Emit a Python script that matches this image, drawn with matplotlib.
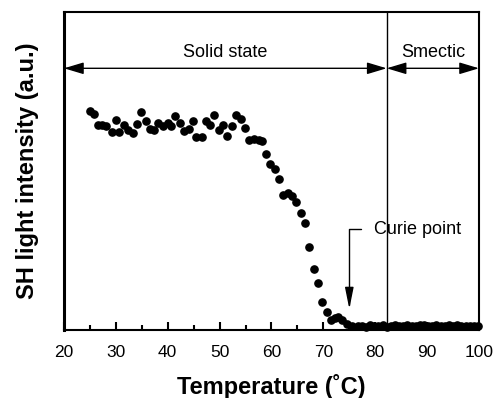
import numpy as np
import matplotlib
matplotlib.use('Agg')
import matplotlib.pyplot as plt

plt.rcParams['font.family'] = ['Liberation Sans', 'DejaVu Sans']

# Datos: temperatura (C) e intensidad SH (u.a.)
temp = [25.0, 25.8, 26.6, 27.3, 28.1, 29.2, 30.0, 30.7, 31.5, 32.4,
        33.3, 34.0, 34.9, 35.8, 36.6, 37.4, 38.2, 39.1, 40.0, 40.7,
        41.4, 42.3, 43.2, 44.1, 44.9, 45.5, 46.6, 47.4, 48.2, 49.0,
        49.9, 50.7, 51.5, 52.3, 53.2, 54.1, 54.8, 55.6, 56.6, 57.5,
        58.2, 59.0, 59.7, 60.6, 61.5, 62.3, 63.1, 64.0, 64.8, 65.6,
        66.4, 67.3, 68.2, 68.9, 69.7, 70.7, 71.5, 72.2, 72.8, 73.6,
        74.6, 75.6, 76.6, 77.4, 78.2, 79.0, 79.8, 80.6, 81.4, 82.2,
        83.0, 83.8, 84.6, 85.4, 86.2, 87.0, 87.8, 88.6, 89.4, 90.2,
        91.0, 91.8, 92.6, 93.4, 94.2, 95.0, 95.8, 96.6, 97.4, 98.2,
        99.0, 99.8]
intens = [0.690, 0.680, 0.646, 0.645, 0.642, 0.623, 0.661, 0.623, 0.645, 0.629,
          0.619, 0.648, 0.686, 0.656, 0.632, 0.629, 0.651, 0.642, 0.651, 0.642,
          0.673, 0.651, 0.626, 0.632, 0.656, 0.606, 0.606, 0.656, 0.644, 0.676,
          0.629, 0.644, 0.611, 0.640, 0.676, 0.664, 0.635, 0.598, 0.602, 0.596,
          0.593, 0.552, 0.521, 0.507, 0.476, 0.426, 0.431, 0.420, 0.402, 0.368,
          0.337, 0.261, 0.193, 0.147, 0.089, 0.056, 0.031, 0.037, 0.042, 0.031,
          0.019, 0.012, 0.012, 0.014, 0.010, 0.015, 0.011, 0.013, 0.016, 0.010,
          0.012, 0.015, 0.013, 0.011, 0.016, 0.013, 0.012, 0.015, 0.017, 0.013,
          0.012, 0.016, 0.014, 0.011, 0.015, 0.013, 0.016, 0.012, 0.014, 0.011,
          0.013, 0.012]

x_ticks = [20, 30, 40, 50, 60, 70, 80, 90, 100]
t_trans = 82.2   # solido -> esmectico
t_curie = 75.0

fig = plt.figure(figsize=(4.93, 3.98), dpi=100)
ax = fig.add_axes([0.1298, 0.1709, 0.8418, 0.7989])

ax.plot(temp, intens, 'o', color='black', markersize=5.2, clip_on=False)

ax.set_xlim(20, 100)
ax.set_ylim(0, 1)
ax.set_xticks(x_ticks)
ax.set_xticks(np.arange(25, 100, 10), minor=True)
ax.set_yticks([])
ax.tick_params(axis='x', which='major', direction='in', length=6, width=1.5,
               labelsize=12.5, pad=11)
ax.tick_params(axis='x', which='minor', direction='in', length=3.5, width=1.5)
for s in ax.spines.values():
    s.set_linewidth(1.5)
ax.spines['left'].set_linewidth(2.2)

ax.set_xlabel('Temperature (˚C)', fontsize=17, fontweight='bold', labelpad=10)
ax.set_ylabel('SH light intensity (a.u.)', fontsize=17, fontweight='bold', labelpad=18)

# linea de transicion
ax.axvline(t_trans, color='black', linewidth=1)

# flechas de fases
arr = dict(arrowstyle='<|-|>,head_length=0.6,head_width=0.18', color='black',
           linewidth=1, mutation_scale=20, shrinkA=0, shrinkB=0)
ax.annotate('', xy=(20, 0.823), xytext=(t_trans, 0.823), arrowprops=arr)
ax.annotate('', xy=(t_trans, 0.823), xytext=(100, 0.823), arrowprops=arr)
ax.text((20 + t_trans) / 2, 0.874, 'Solid state', ha='center', va='center', fontsize=13)
ax.text((t_trans + 100) / 2, 0.874, 'Smectic', ha='center', va='center', fontsize=13)

# punto de Curie
ax.annotate('Curie point', xy=(t_curie, 0.066), xytext=(79.7, 0.317),
            ha='left', va='center', fontsize=13,
            arrowprops=dict(arrowstyle='-|>,head_length=0.65,head_width=0.13',
                            color='black', linewidth=1, mutation_scale=20,
                            shrinkA=7, shrinkB=0, relpos=(0, 0.5),
                            connectionstyle='angle,angleA=0,angleB=90,rad=0'))

fig.savefig('out.png', dpi=100)
